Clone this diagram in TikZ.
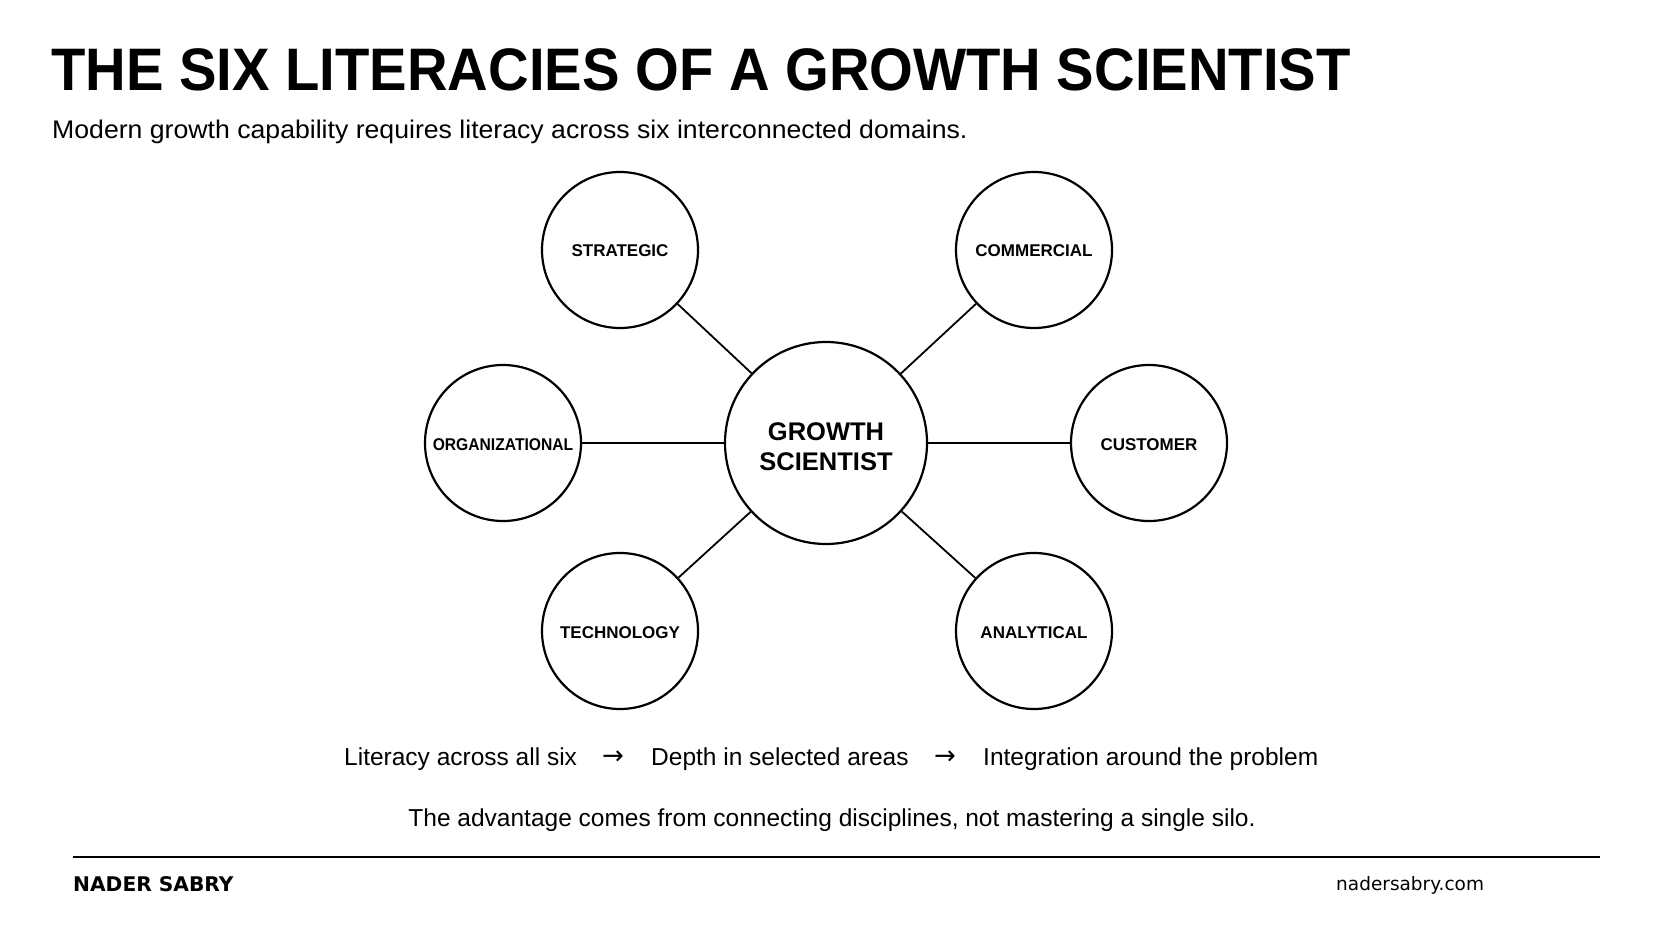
\documentclass[tikz,border=0pt]{standalone}
\usepackage{fontspec}
\setmainfont{Liberation Sans}
\newfontfamily\dejavu{DejaVu Sans}
\usepackage{graphicx}
\begin{document}
\begin{tikzpicture}[x=1pt,y=-1pt,
  hubcircle/.style={circle,draw=black,line width=2.2pt,minimum size=202pt,inner sep=0pt},
  hubtext/.style={inner sep=0pt,align=center,font=\fontsize{25.5}{30}\selectfont\bfseries},
  litcircle/.style={circle,draw=black,line width=2.2pt,minimum size=156pt,inner sep=0pt},
  littext/.style={inner sep=0pt,anchor=base,font=\fontsize{17}{20}\selectfont\bfseries},
  conn/.style={draw=black,line width=1.8pt},
  bodytext/.style={inner sep=0pt,font=\fontsize{24.5}{28}\selectfont},
  arrowtext/.style={inner sep=0pt,font=\dejavu\fontsize{26}{30}\selectfont},
]
\fill[white] (0,0) rectangle (1672,941);
\useasboundingbox (0,0) rectangle (1672,941);

\node[inner sep=0pt,anchor=base west,font=\fontsize{60}{72}\selectfont\bfseries] (title) at (51,91)
  {\scalebox{0.937}[1]{THE SIX LITERACIES OF A GROWTH SCIENTIST}};
\node[inner sep=0pt,anchor=base west,font=\fontsize{25.5}{30}\selectfont] (sub) at (52,139)
  {\scalebox{1.045}[1]{Modern growth capability requires literacy across six interconnected domains.}};

\node[hubcircle] (c) at (826,443) {};
\node[hubtext] (ct) at (826,447) {GROWTH\\SCIENTIST};
\node[litcircle] (s) at (620,250) {};
\node[litcircle] (m) at (1034,250) {};
\node[litcircle] (o) at (503,443) {};
\node[litcircle] (u) at (1149,443) {};
\node[litcircle] (t) at (620,631) {};
\node[litcircle] (a) at (1034,631) {};

\node[littext] (st) at (620,257) {STRATEGIC};
\node[littext] (mt) at (1034,257) {COMMERCIAL};
\node[littext] (ot) at (503,450) {\scalebox{0.92}[1]{ORGANIZATIONAL}};
\node[littext] (ut) at (1149,450) {CUSTOMER};
\node[littext] (tt) at (620,638) {TECHNOLOGY};
\node[littext] (at) at (1034,638) {ANALYTICAL};

\draw[conn] (c) -- (s);
\draw[conn] (c) -- (m);
\draw[conn] (c) -- (o);
\draw[conn] (c) -- (u);
\draw[conn] (c) -- (t);
\draw[conn] (c) -- (a);

\node[bodytext,anchor=base west] (l1) at (344,765) {Literacy across all six};
\node[arrowtext,anchor=base] (ar1) at (613,764) {→};
\node[bodytext,anchor=base west] (l2) at (651,765) {Depth in selected areas};
\node[arrowtext,anchor=base] (ar2) at (945,764) {→};
\node[bodytext,anchor=base west] (l3) at (983,765) {Integration around the problem};

\node[bodytext,anchor=base] (adv) at (832,826)
  {The advantage comes from connecting disciplines, not mastering a single silo.};

\coordinate (rl) at (73,857);
\coordinate (rr) at (1600,857);
\draw[line width=2pt] (rl) -- (rr);

\node[inner sep=0pt,anchor=base west,font=\dejavu\fontsize{20.2}{24}\selectfont\bfseries] (name) at (73,891) {NADER SABRY};
\node[inner sep=0pt,anchor=base west,font=\dejavu\fontsize{18.5}{22}\selectfont] (web) at (1336,890) {nadersabry.com};
\end{tikzpicture}
\end{document}
